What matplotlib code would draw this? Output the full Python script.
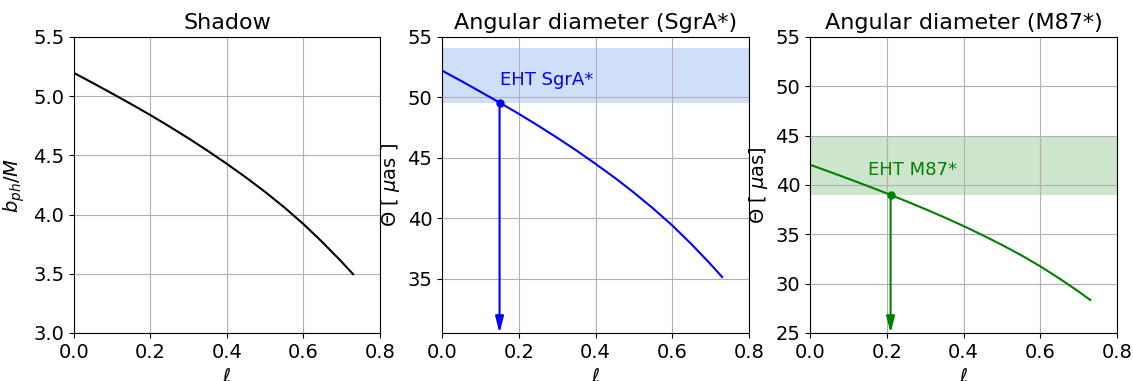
import matplotlib
matplotlib.use("Agg")
import matplotlib.pyplot as plt

ell = [0.0, 0.05, 0.1, 0.15, 0.2, 0.25, 0.3, 0.35, 0.4, 0.45, 0.5, 0.55, 0.6, 0.65, 0.7, 0.73]
b_ph = [5.196, 5.110, 5.022, 4.932, 4.840, 4.743, 4.643, 4.538, 4.428, 4.313, 4.191, 4.061, 3.920, 3.766, 3.601, 3.496]
theta_sgra = [52.22, 51.36, 50.47, 49.57, 48.64, 47.67, 46.66, 45.61, 44.50, 43.35, 42.12, 40.81, 39.40, 37.85, 36.19, 35.13]
theta_m87 = [42.05, 41.35, 40.63, 39.90, 39.15, 38.37, 37.56, 36.72, 35.84, 34.91, 33.93, 32.89, 31.76, 30.52, 29.20, 28.35]

eht_sgra_band = [49.5, 54.1]
eht_m87_band = [39.0, 45.0]
sgra_point = (0.15, 49.5)
m87_point = (0.21, 39.0)

plt.rcParams['font.size'] = 14

fig = plt.figure(figsize=(11.33, 3.81), dpi=100)
ax1 = fig.add_axes([0.0653, 0.126, 0.270, 0.777])
ax2 = fig.add_axes([0.3901, 0.126, 0.271, 0.777])
ax3 = fig.add_axes([0.7149, 0.126, 0.271, 0.777])

# Shadow
ax1.plot(ell, b_ph, color='black', lw=1.5)
ax1.set_xlim(0, 0.8)
ax1.set_ylim(3.0, 5.5)
ax1.set_title('Shadow', fontsize=16)
ax1.set_ylabel('$b_{ph}/M$')
ax1.set_xlabel(r'$\ell$')
ax1.grid(True)

def panel(ax, y, color, band_color, band_alpha, band, point, ylim, title, ylabel, label, label_pos):
    ax.axhspan(band[0], band[1], color=band_color, alpha=band_alpha, lw=0)
    ax.plot(ell, y, color=color, lw=1.5)
    ax.plot([point[0]], [point[1]], 'o', color=color, ms=5)
    ax.annotate('', xy=(point[0], ylim[0]), xytext=point,
                arrowprops=dict(arrowstyle='-|>,head_length=0.7,head_width=0.18',
                                color=color, lw=1.5, shrinkA=0, shrinkB=0))
    ax.text(label_pos[0], label_pos[1], label, color=color, fontsize=13, va='baseline')
    ax.set_xlim(0, 0.8)
    ax.set_ylim(*ylim)
    ax.set_title(title, fontsize=16)
    ax.set_ylabel(ylabel)
    ax.set_xlabel(r'$\ell$')
    ax.grid(True)

panel(ax2, theta_sgra, 'blue', 'cornflowerblue', 0.3, eht_sgra_band, sgra_point,
      (30.5, 55), 'Angular diameter (SgrA*)', r'$\Theta$ [ $\mu$as ]', 'EHT SgrA*', (0.152, 51.0))
ax2.set_yticks([35, 40, 45, 50, 55])
panel(ax3, theta_m87, 'green', 'green', 0.2, eht_m87_band, m87_point,
      (25, 55), 'Angular diameter (M87*)', r'$\Theta$ [ $\mu$as]', 'EHT M87*', (0.152, 41.0))

fig.savefig('out.png', dpi=100)
